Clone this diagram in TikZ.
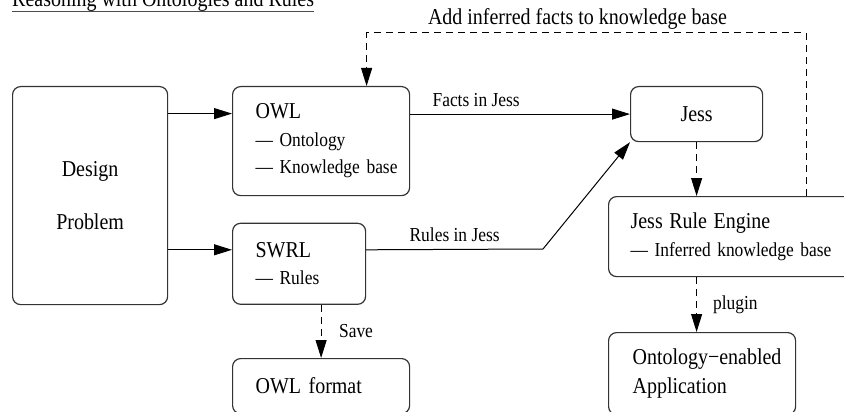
\documentclass[tikz,border=0pt]{standalone}
\usepackage{fontspec}
\setmainfont{Liberation Serif}[FakeStretch=0.88]
\usetikzlibrary{arrows.meta,positioning}
\newcommand\bigtxt{\fontsize{22.7}{27.5}\selectfont}
\newcommand\smltxt{\fontsize{19.8}{27.5}\selectfont}

\begin{document}
\begin{tikzpicture}[x=1pt,y=-1pt,
  box/.style={draw=black!80,line width=1.2pt,rounded corners=8pt,anchor=north west,inner ysep=0pt,align=left,font=\smltxt},
  arr/.style={line width=1pt,-{Triangle[length=18pt,width=11pt]}},
  darr/.style={arr,dash pattern=on 7pt off 5pt},
  lbl/.style={font=\smltxt,inner sep=3pt}]
\useasboundingbox (0,0) rectangle (844,412);
\clip (0,0) rectangle (844,412);

\node[anchor=base west,font=\bigtxt,inner sep=0pt] (title) at (12,6.5) {Reasoning with Ontologies and Rules};
\draw[black!70,line width=1.2pt] ([yshift=-5pt]title.base west) -- ([yshift=-5pt]title.base east);

\node[box,minimum width=155pt,minimum height=218pt,align=center,font=\bigtxt] (design) at (12,86) {Design\\[25.5pt]Problem};
\node[box,minimum height=109pt,text width=131pt,inner xsep=23pt] (owl) at (232,86) {{\bigtxt OWL}\\--- Ontology\\\mbox{--- Knowledge base}};
\node[box,minimum height=81pt,text width=87pt,inner xsep=23pt] (swrl) at (232,222.7) {{\bigtxt SWRL}\\--- Rules};
\node[box,minimum height=55pt,text width=131pt,inner xsep=23pt,font=\bigtxt] (owlfmt) at (232,358) {OWL format};
\node[box,minimum width=132pt,minimum height=55pt,align=center,font=\bigtxt] (jess) at (630,86) {Jess};
\node[box,minimum height=80pt,text width=208pt,inner xsep=22pt] (engine) at (608,196) {{\bigtxt Jess Rule Engine}\\--- Inferred knowledge base};
\node[box,minimum height=82pt,text width=139pt,inner xsep=24pt,font=\fontsize{22.7}{29}\selectfont] (app) at (608,332) {\mbox{Ontology−enabled}\\Application};

\coordinate (o1) at ([yshift=27.5pt]owl.west);
\coordinate (s1) at ([yshift=14pt]swrl.west);
\coordinate (bend) at (543,249);
\coordinate (sv) at ([xshift=22pt]swrl.south);
\coordinate (fbtop) at (806,33);
\coordinate (owlin) at ([xshift=45.5pt]owl.north);

\draw[arr] (design.east |- o1) -- (o1);
\draw[arr] (design.east |- s1) -- (s1);
\draw[arr] (owl.east |- jess.west) -- (jess.west) node[lbl,pos=0.3,above=4pt]{Facts in Jess};
\draw[arr] (swrl.east |- s1) -- node[lbl,above=4pt]{Rules in Jess} (bend) -- (jess.south west);
\draw[darr] (jess.south) -- (jess.south |- engine.north);
\draw[darr] (jess.south |- engine.south) -- (jess.south |- app.north) node[lbl,midway,right=13pt]{plugin};
\draw[darr] (sv) -- (sv |- owlfmt.north) node[lbl,midway,right=14.5pt]{Save};
\draw[darr] (engine.north -| fbtop) -- (fbtop) -- node[lbl,font=\bigtxt,pos=0.52,above]{Add inferred facts to knowledge base} (fbtop -| owlin) -- (owlin);
\end{tikzpicture}
\end{document}
